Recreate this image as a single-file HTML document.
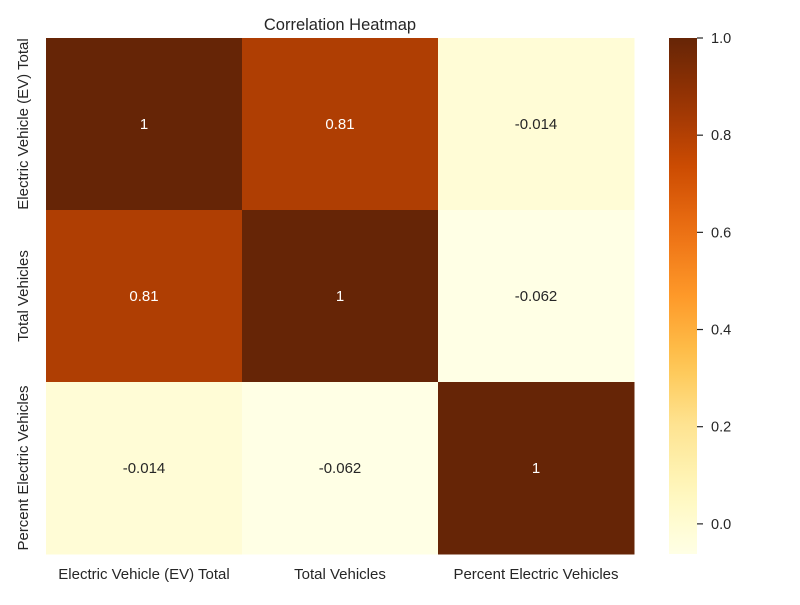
<!DOCTYPE html>
<html><head><meta charset="utf-8"><style>
body{margin:0;background:#fff;font-family:"Liberation Sans","DejaVu Sans",sans-serif;}
svg text{font-family:"Liberation Sans","DejaVu Sans",sans-serif;fill:#262626;}
</style></head><body>
<svg id="chart" width="800" height="600" viewBox="0 0 800 600">
<defs><linearGradient id="cbgrad" x1="0" y1="1" x2="0" y2="0"></linearGradient></defs>
<text x="340" y="30" text-anchor="middle" font-size="16.5">Correlation Heatmap</text>
<g id="cells"></g>
<g id="labels"></g>
<g id="cbar"></g>
</svg>
<script>
const labels=["Electric Vehicle (EV) Total","Total Vehicles","Percent Electric Vehicles"];
const row0=[1,0.81,-0.014];
const row1=[0.81,1,-0.062];
const row2=[-0.014,-0.062,1];
const printed0=["1","0.81","-0.014"];
const printed1=["0.81","1","-0.062"];
const printed2=["-0.014","-0.062","1"];
const cbTicks=[0.0,0.2,0.4,0.6,0.8,1.0];
const vmin=-0.062,vmax=1;
const stops=["#ffffe5","#fff7bc","#fee391","#fec44f","#fe9929","#ec7014","#cc4c02","#993404","#662506"];
function hx(c){return [1,3,5].map(i=>parseInt(c.substr(i,2),16));}
function cmap(t){t=Math.max(0,Math.min(1,t));const p=t*(stops.length-1);const i=Math.min(stops.length-2,Math.floor(p));const f=p-i;const a=hx(stops[i]),b=hx(stops[i+1]);return `rgb(${a.map((v,k)=>Math.round(v+(b[k]-v)*f)).join(',')})`;}
const norm=v=>(v-vmin)/(vmax-vmin);
const X0=46,Y0=38,CW=196,CH=172;
const xs=i=>X0+i*CW, ys=i=>Y0+i*CH;
const NS="http://www.w3.org/2000/svg";
function mk(tag,attrs,parent){const e=document.createElementNS(NS,tag);for(const k in attrs)e.setAttribute(k,attrs[k]);parent.appendChild(e);return e;}
const rows=[row0,row1,row2],pr=[printed0,printed1,printed2];
const cells=document.getElementById('cells');
rows.forEach((r,i)=>r.forEach((v,j)=>{
 const rc=mk('rect',{x:xs(j),y:ys(i),width:CW+0.5,height:CH+0.5,fill:cmap(norm(v))},cells);
 
 
 const t=mk('text',{x:xs(j)+CW/2,y:ys(i)+CH/2+5,'text-anchor':'middle','font-size':'15'},cells);
 t.style.fill=norm(v)>0.5?'#fff':'#262626';
 t.textContent=pr[i][j];
 
 
}));
const lg=document.getElementById('labels');
labels.forEach((l,i)=>{
 const t=mk('text',{x:xs(i)+CW/2,y:579,'text-anchor':'middle','font-size':'15'},lg);
 t.textContent=l;
 
 
 const cy=ys(i)+CH/2;
 const u=mk('text',{x:0,y:0,'text-anchor':'middle','font-size':'15',transform:`translate(28,${cy}) rotate(-90)`},lg);
 u.textContent=l;
 
 
});
const grad=document.getElementById('cbgrad');
for(let k=0;k<=20;k++){mk('stop',{offset:(k/20),'stop-color':cmap(k/20)},grad);}
const cb=document.getElementById('cbar');
const CBX=669,CBW=28,CBT=38,CBB=554;
const cy=v=>CBB-(v-vmin)/(vmax-vmin)*(CBB-CBT);
const r=mk('rect',{x:CBX,y:CBT,width:CBW,height:CBB-CBT,fill:'url(#cbgrad)'},cb);


cbTicks.forEach(v=>{
 mk('line',{x1:CBX+CBW,x2:CBX+CBW+6,y1:cy(v),y2:cy(v),stroke:'#262626','stroke-width':1.2},cb);
 const t=mk('text',{x:CBX+CBW+14,y:cy(v)+5,'font-size':'14.5'},cb);
 t.textContent=v.toFixed(1);
 
 
});
</script>
</body></html>
